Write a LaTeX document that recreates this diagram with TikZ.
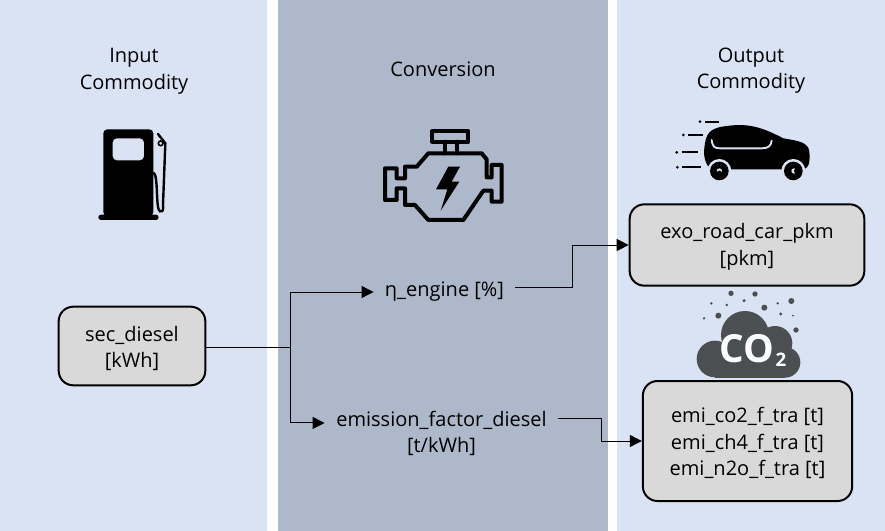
\documentclass[tikz,border=0pt]{standalone}
\usepackage{fontspec}
\setmainfont{Open Sans}
\usetikzlibrary{calc}
\usetikzlibrary{arrows.meta}
\definecolor{bandlight}{HTML}{DAE3F3}
\definecolor{banddark}{HTML}{ADB9CA}
\definecolor{boxgray}{HTML}{D9D9D9}
\definecolor{cloudgray}{HTML}{4B4F52}
\tikzset{
    label/.style={font=\fontsize{15}{20}\selectfont,align=center,inner sep=0pt,execute at begin node={\rule{0pt}{14.6pt}}},
    commodity/.style={draw=black,line width=1.5pt,fill=boxgray,rounded corners=11pt,inner sep=0pt},
    flow/.style={line width=0.75pt,-{Triangle[length=9pt,width=9pt]}},
    plain/.style={line width=0.75pt},
    motor/.style={line width=3pt,line join=round,line cap=round},
}
\begin{document}
\begin{tikzpicture}[x=0.75pt,y=-0.75pt]%
    \useasboundingbox (0,0) rectangle (885,531);
    \fill[bandlight] (0,0) rectangle (267,531);
    \fill[banddark] (278,0) rectangle (608,531);
    \fill[bandlight] (617,0) rectangle (885,531);

    \node[label] (input) at (134,71.5) {Input\\Commodity};
    \node[label] (conversion) at (443,67) {Conversion};
    \node[label] (output) at (751,70.5) {Output\\Commodity};

    \node[commodity,minimum width=110pt,minimum height=59pt] (diesel) at (132,346) {};
    \node[commodity,minimum width=176pt,minimum height=61pt] (car) at (747,245) {};
    \node[commodity,minimum width=157pt,minimum height=90pt] (emi) at (747.5,441) {};
    \node[label] (dieseltext) at (132,348.5) {sec\_diesel\\{}[kWh]};
    \node[label] (cartext) at (747,247) {exo\_road\_car\_pkm\\{}[pkm]};
    \node[label] (emitext) at (747.5,443) {emi\_co2\_f\_tra [t]\\emi\_ch4\_f\_tra [t]\\emi\_n2o\_f\_tra [t]};
    \node[label,minimum width=106pt] (engine) at (444.5,289) {η\_engine [\%]};
    \node[label,minimum width=175pt] (factor) at (441.5,433.5) {emission\_factor\_diesel\\{}[t/kWh]};

    \coordinate (split) at (290,347);
    \draw[plain] (diesel.east |- split) -- (split);
    \draw[flow] (split) |- ([yshift=-2.25pt]engine.west);
    \draw[flow] (split) |- ([yshift=7.9pt]factor.west);
    \draw[flow] ([yshift=1.5pt]engine.east) -| (572,245) -- (car.west);
    \draw[flow] ([yshift=10.9pt]factor.east) -| (601,441) -- (emi.west);

    % fuel pump
    \begin{scope}[shift={(60,110)},scale=1/3]
        \fill[black,rounded corners=3pt,even odd rule] (130,58) rectangle (280,318)
            (158,85) rectangle (252,151);
        \fill[black,rounded corners=2pt] (115,314) rectangle (296,330);
        \draw[line width=1.8pt,line cap=round] (280,188) .. controls (296,192) and (286,300) .. (300,304)
            .. controls (312,306) and (309,295) .. (309,285) -- (316,100) -- (294,72);
        \draw[line width=1.2pt,fill=bandlight] (302,100) circle (7);
    \end{scope}

    % engine
    \begin{scope}[shift={(370,120)},scale=1/3]
        \draw[motor] (187,33) rectangle (295,65);
        \draw[motor] (225,65) -- (225,100) (262,65) -- (262,100);
        \draw[motor] (175,100) -- (335,100) -- (350,118) -- (350,172) -- (365,172) -- (365,135)
            -- (395,135) -- (395,245) -- (365,245) -- (365,212) -- (340,212) -- (280,300)
            -- (175,300) -- (135,255) -- (105,255) -- (105,205) -- (80,205) -- (80,240)
            -- (45,240) -- (45,145) -- (80,145) -- (80,175) -- (105,175) -- (105,140)
            -- (140,140) -- cycle;
        \fill[black] (235,140) -- (270,140) -- (245,185) -- (268,185) -- (212,272) -- (232,208) -- (198,208) -- cycle;
    \end{scope}

    % car
    \begin{scope}[shift={(660,110)},scale=1/3]
        \fill[black] (135,100) .. controls (140,60) and (165,52) .. (200,48) .. controls (260,40) and (300,48) .. (370,85)
            .. controls (410,92) and (445,95) .. (448,125) .. controls (450,150) and (450,178) .. (425,178)
            -- (150,178) .. controls (130,150) and (130,130) .. (135,100) -- cycle;
        \draw[line width=1.4pt,bandlight,line cap=round] (155,90) .. controls (158,112) and (165,115) .. (180,115)
            -- (305,115) .. controls (325,115) and (333,108) .. (335,92);
        \fill[bandlight] (178,183) circle (36) (400,183) circle (36);
        \fill[black] (178,183) circle (28) (400,183) circle (28);
        \fill[bandlight] (178,183) circle (8) (402,183) circle (8);
        \fill[black] (178,190) circle (8) (410,183) circle (8);
        \foreach \y/\xa/\xb in {35/135/178,75/85/130,127/65/115,172/67/123}{
            \draw[line width=1.4pt] (\xa,\y) -- (\xb,\y);
            \fill[black] (\xa-15,\y) circle (4.5);
        }
    \end{scope}

    % cloud
    \begin{scope}[shift={(680,285)},scale=1/3]
        \fill[cloudgray] (105,222) circle (55);
        \fill[cloudgray] (195,150) circle (72);
        \fill[cloudgray] (285,175) circle (52);
        \fill[cloudgray] (315,232) circle (46);
        \fill[cloudgray] (105,200) rectangle (315,278);
        \foreach \x/\y/\r in {153/25/8,225/27/8,94/55/4,140/60/4,192/47/5,253/68/9,293/55/4,334/48/9,
            72/100/4,115/92/9,302/87/5,339/92/3,348/135/8}{
            \fill[cloudgray] (\x,\y) circle (\r);
        }
        \node[inner sep=0pt,text=white,font=\fontsize{29}{29}\bfseries\selectfont] (co) at (200,190) {CO};
        \node[inner sep=0pt,text=white,font=\fontsize{14}{14}\bfseries\selectfont] (two) at (303,224) {2};
    \end{scope}
\end{tikzpicture}
\end{document}
